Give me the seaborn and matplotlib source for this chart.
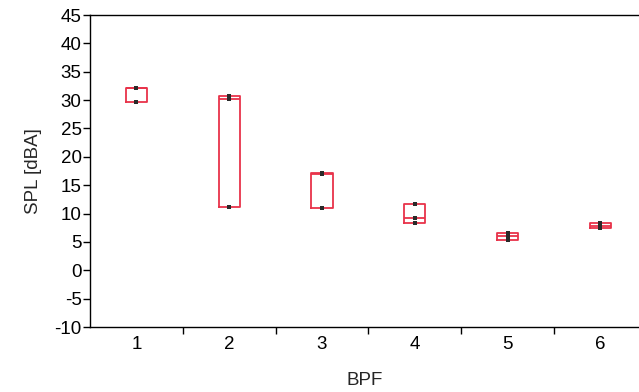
import numpy as np
import pandas as pd
import matplotlib
matplotlib.use("Agg")
import matplotlib.pyplot as plt
import seaborn as sns

# ---- data ----
bpf_labels = ["1", "2", "3", "4", "5", "6"]
spl_bpf1 = [29.7, 32.1, 32.2]
spl_bpf2 = [11.2, 30.2, 30.8]
spl_bpf3 = [11.0, 16.9, 17.2]
spl_bpf4 = [8.4, 9.2, 11.6]
spl_bpf5 = [5.4, 6.0, 6.5]
spl_bpf6 = [7.4, 7.8, 8.3]
y_ticks = list(range(-10, 46, 5))

groups = [spl_bpf1, spl_bpf2, spl_bpf3, spl_bpf4, spl_bpf5, spl_bpf6]
df = pd.DataFrame({
    "BPF": [lab for lab, g in zip(bpf_labels, groups) for _ in g],
    "SPL": [v for g in groups for v in g],
})

sns.set_style("ticks")
plt.rcParams["font.family"] = ["Liberation Sans", "DejaVu Sans"]

fig = plt.figure(figsize=(6.39, 3.92), dpi=100)
ax = fig.add_axes([90 / 639, 1 - 327 / 392, 1 - 90 / 639, (327 - 15) / 392])

red = "#e8334a"
stats = []
for lab, g in zip(bpf_labels, groups):
    arr = np.asarray(g)
    stats.append({"label": lab, "med": float(np.median(arr)),
                  "q1": float(arr.min()), "q3": float(arr.max()),
                  "whislo": float(arr.min()), "whishi": float(arr.max()),
                  "fliers": []})

sns.stripplot(data=df, x="BPF", y="SPL", order=bpf_labels, jitter=False,
              marker="s", size=2.4, color="#2a2a2a", linewidth=0, ax=ax, zorder=5)
ax.bxp(stats, positions=range(len(bpf_labels)), widths=0.23, showcaps=False,
       manage_ticks=False, patch_artist=False,
       boxprops=dict(color=red, linewidth=1.3),
       medianprops=dict(color=red, linewidth=1.3),
       whiskerprops=dict(color=red, linewidth=1.3))

fs = 13.5
ax.set_xlim(-0.5, -0.5 + 549 / 92.8)
ax.set_ylim(-10, 45)
ax.set_yticks(y_ticks)
ax.set_yticklabels([str(t) for t in y_ticks])
ax.set_xticks(range(len(bpf_labels)))
ax.set_xticklabels(bpf_labels)
ax.set_xticks([i + 0.5 for i in range(len(bpf_labels) - 1)], minor=True)
ax.tick_params(axis="x", which="major", length=0, pad=6.5, labelsize=fs, colors="black")
ax.tick_params(axis="x", which="minor", length=5, width=1, direction="out", color="black")
ax.tick_params(axis="y", length=5, width=1, direction="out", labelsize=fs, colors="black", pad=1)

for side in ["left", "bottom", "top"]:
    ax.spines[side].set_visible(True)
    ax.spines[side].set_color("black")
    ax.spines[side].set_linewidth(1.0)
ax.spines["right"].set_visible(False)

ax.set_xlabel("BPF", fontsize=fs, labelpad=14)
ax.set_ylabel("SPL [dBA]", fontsize=fs, labelpad=9)

fig.savefig("out.png", dpi=100)
